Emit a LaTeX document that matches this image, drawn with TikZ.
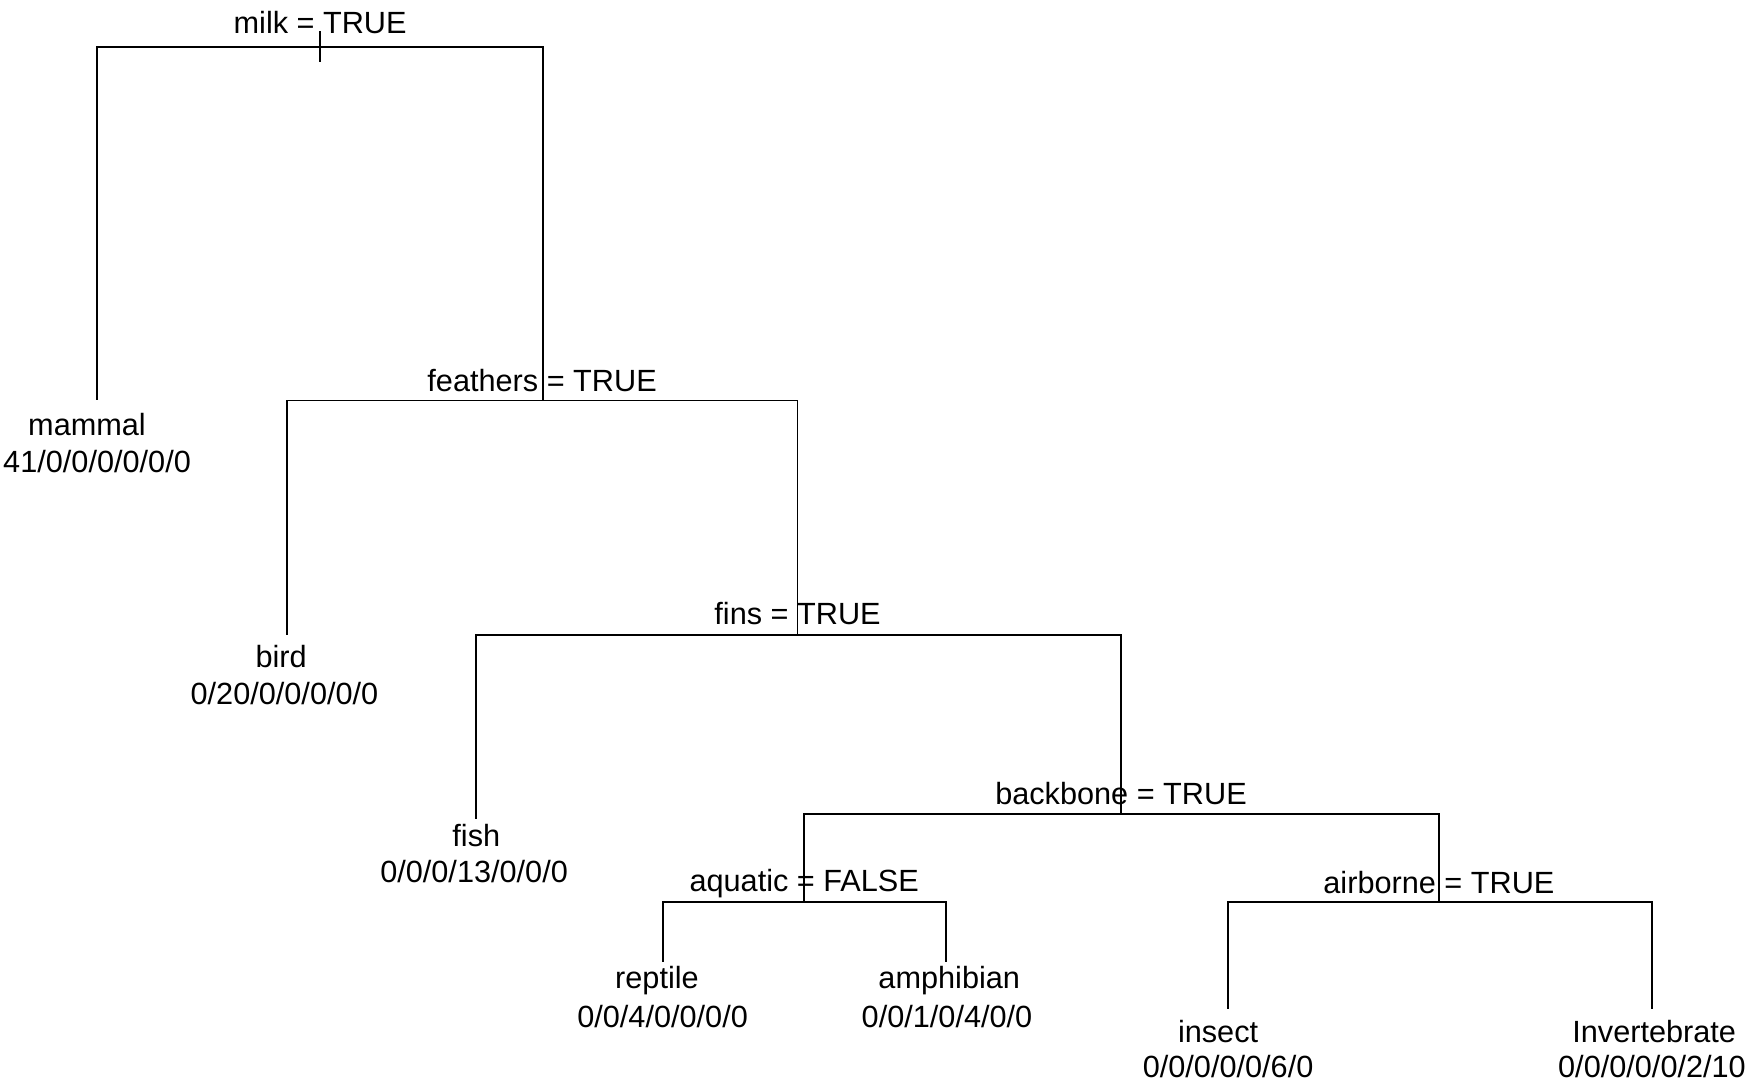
\documentclass[tikz,border=0pt]{standalone}
\usepackage{fontspec}
\setmainfont{Liberation Sans}
\begin{document}
\begin{tikzpicture}[x=1pt,y=-1pt,
  edge/.style={line width=1.7pt, black, line cap=rect},
  lbl/.style={inner sep=0pt, anchor=base, font=\fontsize{27.5}{32}\selectfont},
]
\useasboundingbox[fill=white] (0,0) rectangle (1568,975);
% split points
\coordinate (milk) at (287,42);
\coordinate (feathers) at (487,359);
\coordinate (fins) at (715,569);
\coordinate (backbone) at (1005,730);
\coordinate (aquatic) at (721,809);
\coordinate (airborne) at (1290,809);
% leaf ends
\coordinate (mammal) at (87,358);
\coordinate (bird) at (257,568);
\coordinate (fish) at (427,733);
\coordinate (reptile) at (594,862);
\coordinate (amphibian) at (848,862);
\coordinate (insect) at (1101,904);
\coordinate (invert) at (1481,904);
% root tick
\coordinate (tickT) at (287,29);
\coordinate (tickB) at (287,55);
\draw[edge] (tickT) -- (tickB);
% connectors
\draw[edge] (milk) -| (mammal);
\draw[edge] (milk) -| (feathers);
\draw[edge] (feathers) -| (bird);
\draw[edge] (feathers) -| (fins);
\draw[edge] (fins) -| (fish);
\draw[edge] (fins) -| (backbone);
\draw[edge] (backbone) -| (aquatic);
\draw[edge] (backbone) -| (airborne);
\draw[edge] (aquatic) -| (reptile);
\draw[edge] (aquatic) -| (amphibian);
\draw[edge] (airborne) -| (insect);
\draw[edge] (airborne) -| (invert);
% split labels
\node[lbl] (milkL) at (287,30) {milk = TRUE};
\node[lbl] (feathersL) at (486,351) {feathers = TRUE};
\node[lbl] (finsL) at (715,560) {fins = TRUE};
\node[lbl] (backboneL) at (1005,721) {backbone = TRUE};
\node[lbl] (aquaticL) at (721,799) {aquatic = FALSE};
\node[lbl] (airborneL) at (1290,801) {airborne = TRUE};
% leaf labels
\node[lbl] (mammalN) at (78,390) {mammal};
\node[lbl] (mammalC) at (87,424) {41/0/0/0/0/0/0};
\node[lbl] (birdN) at (252,598) {bird};
\node[lbl] (birdC) at (255,632) {0/20/0/0/0/0/0};
\node[lbl] (fishN) at (427,759) {fish};
\node[lbl] (fishC) at (425,791) {0/0/0/13/0/0/0};
\node[lbl] (reptileN) at (589,886) {reptile};
\node[lbl] (reptileC) at (594,921) {0/0/4/0/0/0/0};
\node[lbl] (amphibianN) at (851,886) {amphibian};
\node[lbl] (amphibianC) at (849,921) {0/0/1/0/4/0/0};
\node[lbl] (insectN) at (1092,935) {insect};
\node[lbl] (insectC) at (1101,966) {0/0/0/0/0/6/0};
\node[lbl] (invertN) at (1483,935) {Invertebrate};
\node[lbl] (invertC) at (1481,966) {0/0/0/0/0/2/10};
\end{tikzpicture}
\end{document}
